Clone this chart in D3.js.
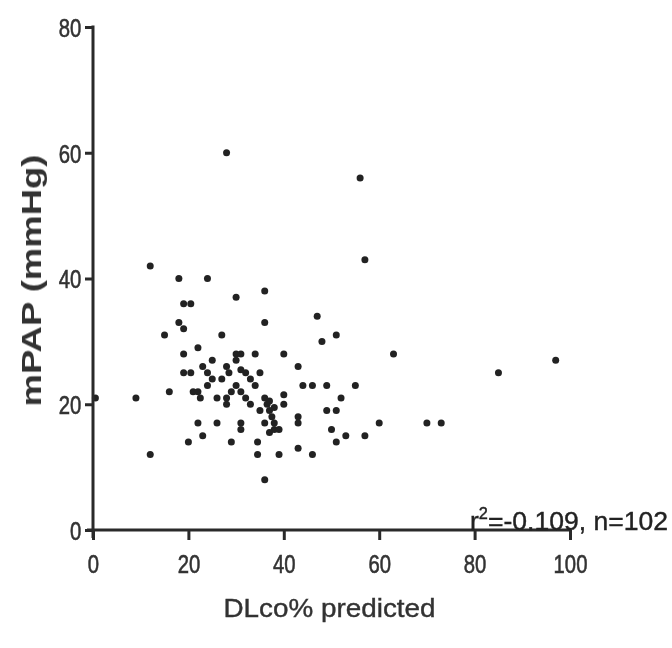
<!DOCTYPE html>
<html>
<head>
<meta charset="utf-8">
<script src="https://cdn.jsdelivr.net/npm/d3@7"></script>
<style>
  html, body { margin: 0; padding: 0; background: #fff; }
  svg { display: block; }
</style>
</head>
<body>
<svg id="chart" width="672" height="648"></svg>
<script>
// ---- data ----
const dlco = [0.5, 9, 12, 12, 15, 16, 18, 18, 19, 19, 20.5, 19, 19, 20.5, 20, 22, 22, 22.5, 22, 23,
  24, 24, 25, 25, 26, 27, 28, 28, 28.5, 28, 28, 29, 29, 30, 30, 30, 30, 31, 31, 31,
  31, 32, 33, 34, 34, 34.5, 34.5, 35, 36, 36, 36, 36, 36, 37, 37.5, 38, 37, 36.5, 38, 39,
  39, 40, 40, 40, 43, 43, 43, 43, 44, 46, 46, 47, 48, 49, 49, 51, 50, 51, 51, 52,
  53, 55, 56, 57, 57, 60, 63, 70, 73, 85, 97, 23, 21, 32, 35, 37, 38, 26, 24, 33,
  27, 31];
const mpap = [21, 21, 42, 12, 31, 22, 40, 33, 32, 36, 36, 28, 25, 25, 14, 29, 22, 21, 17, 15,
  40, 25, 27, 24, 17, 31, 60, 26, 25, 21, 20, 22, 14, 37, 28, 27, 23, 28, 25.5, 17,
  16, 21, 24, 28, 23, 14, 12, 25, 38, 33, 21, 17, 8, 19, 18, 19.5, 15.5, 20, 17, 16,
  12, 28, 21.5, 20, 26, 18, 17, 13, 23, 23, 12, 34, 30, 23, 19, 19, 16, 31, 14, 21,
  15, 23, 56, 43, 15, 17, 28, 17, 17, 25, 27, 26, 22, 25, 19, 20.5, 16, 21, 23, 20,
  24, 22];
const xTicks = [0, 20, 40, 60, 80, 100];
const yTicks = [0, 20, 40, 60, 80];
const xLabel = "DLco% predicted";
const yLabel = "mPAP (mmHg)";
const annotation = ["r", "2", "=-0.109, n=102"];

const points = dlco.map((d, i) => ({ x: d, y: mpap[i] }));

const svg = d3.select("#chart");
const font = "'Liberation Sans', Arial, sans-serif";
const ink = "#2a2a2a";

const defs = svg.append("defs");
defs.append("filter").attr("id", "soft")
  .attr("x", "-5%").attr("y", "-5%").attr("width", "110%").attr("height", "110%")
  .append("feGaussianBlur").attr("stdDeviation", 0.6);

const x = d3.scaleLinear().domain([0, 100]).range([93, 570]);
const y = d3.scaleLinear().domain([0, 80]).range([530, 27]);

const root = svg.append("g").attr("filter", "url(#soft)");

// points
root.append("g").selectAll("circle").data(points).join("circle")
  .attr("cx", d => x(d.x))
  .attr("cy", d => y(d.y))
  .attr("r", 3.5)
  .attr("fill", "#222");

// x axis
const xAxis = root.append("g")
  .attr("transform", `translate(0,${y(0)})`)
  .call(d3.axisBottom(x).tickValues(xTicks).tickSize(10).tickSizeOuter(0).tickPadding(8));
xAxis.select(".domain").attr("stroke", ink).attr("stroke-width", 3)
  .attr("d", `M${x(0) - 6},0H${x(100) + 1.5}`);
xAxis.selectAll(".tick line").attr("stroke", ink).attr("stroke-width", 3);
xAxis.selectAll(".tick text")
  .attr("font-family", font).attr("font-size", 26).attr("fill", "#333")
  .attr("stroke", "#333").attr("stroke-width", 0.6)
  .attr("transform", "scale(0.78,1)").attr("dy", "0.95em");

// y axis
const yAxis = root.append("g")
  .attr("transform", `translate(${x(0)},0)`)
  .call(d3.axisLeft(y).tickValues(yTicks).tickSize(8).tickSizeOuter(0).tickPadding(4));
yAxis.select(".domain").attr("stroke", ink).attr("stroke-width", 3)
  .attr("d", `M0,${y(80) - 1.5}V${y(0) + 8}`);
yAxis.selectAll(".tick line").attr("stroke", ink).attr("stroke-width", 3);
yAxis.selectAll(".tick text")
  .attr("font-family", font).attr("font-size", 26).attr("fill", "#333")
  .attr("stroke", "#333").attr("stroke-width", 0.6)
  .attr("transform", "scale(0.78,1)").attr("x", -15).attr("dy", "0.36em");

// axis titles
root.append("text")
  .attr("transform", `translate(${x(50) - 2},617)`)
  .attr("text-anchor", "middle")
  .attr("font-family", font).attr("font-size", 26).attr("fill", "#333")
  .attr("stroke", "#333").attr("stroke-width", 0.4)
  .attr("textLength", 212).attr("lengthAdjust", "spacingAndGlyphs")
  .text(xLabel);

root.append("text")
  .attr("transform", `translate(41,${(y(80) + y(0)) / 2 + 2}) rotate(-90)`)
  .attr("text-anchor", "middle")
  .attr("font-family", font).attr("font-size", 27).attr("font-weight", "bold").attr("fill", "#333")
  .attr("textLength", 252).attr("lengthAdjust", "spacingAndGlyphs")
  .text(yLabel);

// annotation
const ann = root.append("text")
  .attr("x", 668).attr("y", 530)
  .attr("text-anchor", "end")
  .attr("font-family", font).attr("font-size", 26).attr("fill", "#222")
  .attr("stroke", "#222").attr("stroke-width", 0.4)
  .attr("textLength", 198).attr("lengthAdjust", "spacingAndGlyphs");
ann.append("tspan").text(annotation[0]);
ann.append("tspan").attr("font-size", 16).attr("dy", -11).text(annotation[1]);
ann.append("tspan").attr("dy", 11).text(annotation[2]);
</script>
</body>
</html>
